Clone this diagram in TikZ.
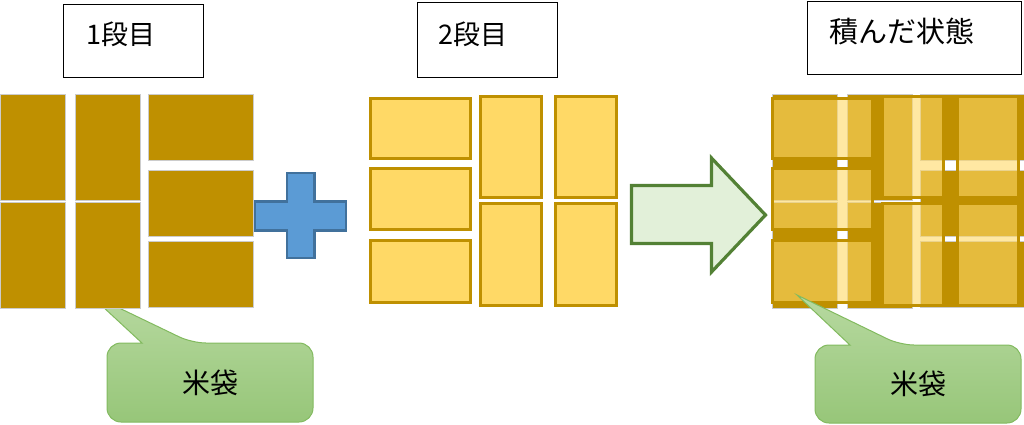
\documentclass[tikz,border=0pt]{standalone}
\usepackage{fontspec}
\setmainfont{Noto Sans CJK JP}
\definecolor{gold}{HTML}{BF9000}
\definecolor{yel}{HTML}{FFD966}
\definecolor{plusfill}{HTML}{5B9BD5}
\definecolor{plusline}{HTML}{41719C}
\definecolor{arrfill}{HTML}{E2F0D9}
\definecolor{arrline}{HTML}{538135}
\definecolor{cotop}{HTML}{B7D9A0}
\definecolor{cobot}{HTML}{97C679}
\definecolor{coline}{HTML}{82BA5F}
\tikzset{
  lowerbag/.style={fill=gold, draw=black!20, line width=0.6pt},
  upperbag/.style={fill=yel, draw=gold, line width=3pt},
  uppertrans/.style={fill=yel, fill opacity=0.6, draw=gold, line width=3pt},
  titlebox/.style={draw=black, line width=1.4pt, fill=white, inner sep=0pt},
  titletext/.style={anchor=west, font=\fontsize{27}{30}\selectfont, inner sep=0pt},
  callout/.style={top color=cotop, bottom color=cobot, draw=coline, line width=1pt},
  callouttext/.style={font=\fontsize{28}{30}\selectfont, inner sep=0pt},
  plusshape/.style={fill=plusfill, draw=plusline, line width=2.5pt},
  arrowshape/.style={fill=arrfill, draw=arrline, line width=3.2pt},
}
\newcommand{\layerOne}[1]{%
  \draw[#1] (0,94) rectangle (65,200);
  \draw[#1] (0,202) rectangle (65,308);
  \draw[#1] (75,94) rectangle (140,200);
  \draw[#1] (75,202) rectangle (140,308);
  \draw[#1] (148,94) rectangle (253,160);
  \draw[#1] (148,170) rectangle (253,236);
  \draw[#1] (148,241) rectangle (253,307);
}
\newcommand{\layerTwo}[1]{%
  \draw[#1] (370.5,98.5) rectangle (470.5,158.5);
  \draw[#1] (370.5,168.5) rectangle (470.5,229.5);
  \draw[#1] (370.5,240.5) rectangle (470.5,302.5);
  \draw[#1] (480.5,96.5) rectangle (541.5,197.5);
  \draw[#1] (480.5,203.5) rectangle (541.5,305.5);
  \draw[#1] (555.5,96.5) rectangle (616.5,197.5);
  \draw[#1] (555.5,203.5) rectangle (616.5,305.5);
}
\begin{document}
\begin{tikzpicture}[x=1pt,y=-1pt]
\useasboundingbox (0,0) rectangle (1024,424);
\clip (0,0) rectangle (1024,424);
% callout 1 (behind first layer)
\path[callout, rounded corners=14pt] (142,343) -- (107,343) -- (107,422) -- (313,422) -- (313,343) -- (192,343) [sharp corners] -- (88,293) -- cycle;
\node[callouttext] (c1) at (210,383) {米袋};
% first layer
\layerOne{lowerbag}
% plus
\draw[plusshape] (255,201.5) -- (287,201.5) -- (287,173) -- (314.5,173) -- (314.5,201.5) -- (346,201.5) -- (346,230.5) -- (314.5,230.5) -- (314.5,258) -- (287,258) -- (287,230.5) -- (255,230.5) -- cycle;
% second layer
\layerTwo{upperbag}
% arrow
\draw[arrowshape] (631.5,185.5) -- (711.5,185.5) -- (711.5,158) -- (765.5,215) -- (711.5,272) -- (711.5,243.5) -- (631.5,243.5) -- cycle;
% stacked
\begin{scope}[xshift=772pt]
\layerOne{lowerbag}
\end{scope}
\begin{scope}[xshift=402pt]
\layerTwo{uppertrans}
\end{scope}
% callout 2
\path[callout, rounded corners=14pt] (850,345) -- (815,345) -- (815,423) -- (1021,423) -- (1021,345) -- (900,345) [sharp corners] -- (797,295) -- cycle;
\node[callouttext] (c2) at (918,384) {米袋};
% titles
\node[titlebox, anchor=north west, minimum width=140pt, minimum height=73pt] (b1) at (63,4) {};
\node[titletext] (t1) at (86,34) {1段目};
\node[titlebox, anchor=north west, minimum width=140pt, minimum height=75pt] (b2) at (417,2) {};
\node[titletext] (t2) at (438,34) {2段目};
\node[titlebox, anchor=north west, minimum width=214pt, minimum height=73pt] (b3) at (807,1) {};
\node[titletext, font=\fontsize{29}{31}\selectfont] (t3) at (829,31) {積んだ状態};
\end{tikzpicture}
\end{document}
